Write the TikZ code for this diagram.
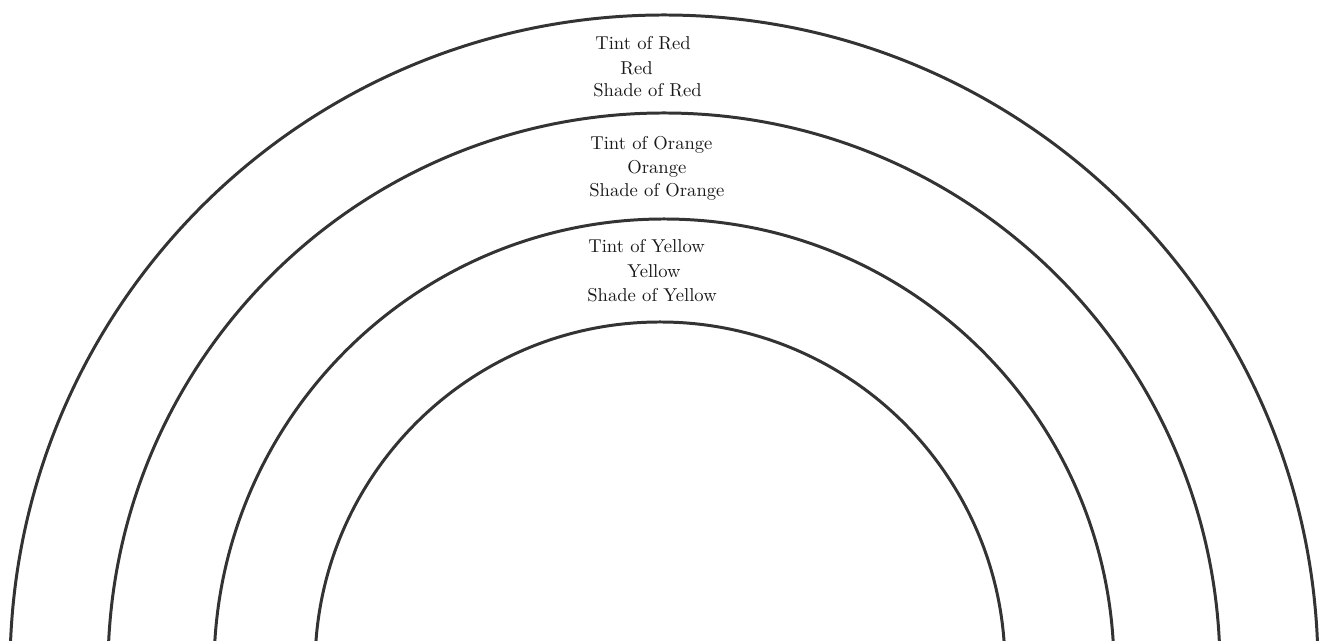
\documentclass[tikz,border=0pt]{standalone}
\usepackage{tikz}

\begin{document}
\begin{tikzpicture}[x=0.02cm,y=0.02cm,
    ring/.style={draw=black!80,line width=1.7pt},
    word/.style={anchor=west,inner sep=0pt,font=\fontsize{10.6}{13}\selectfont,text=black!90}]
\useasboundingbox (0,0) rectangle (1319,641);
\begin{scope}
\clip (0,0) rectangle (1319,641);
\coordinate (c) at (664,-28);
\coordinate (ci) at (660,-26);
\draw[ring] (c) circle (654);
\draw[ring] (c) circle (556);
\draw[ring] (c) circle (450);
\draw[ring] (ci) circle (345);
\end{scope}
% red band
\node[word] (tr) at (595,598) {Tint of Red};
\node[word] (r) at (620,573) {Red};
\node[word] (sr) at (593,551) {Shade of Red};
% orange band
\node[word] (to) at (590,496) {Tint of Orange};
\node[word] (o) at (627,472) {Orange};
\node[word] (so) at (589,449) {Shade of Orange};
% yellow band
\node[word] (ty) at (588,395) {Tint of Yellow};
\node[word] (y) at (627,370) {Yellow};
\node[word] (sy) at (587,346) {Shade of Yellow};
\end{tikzpicture}
\end{document}
